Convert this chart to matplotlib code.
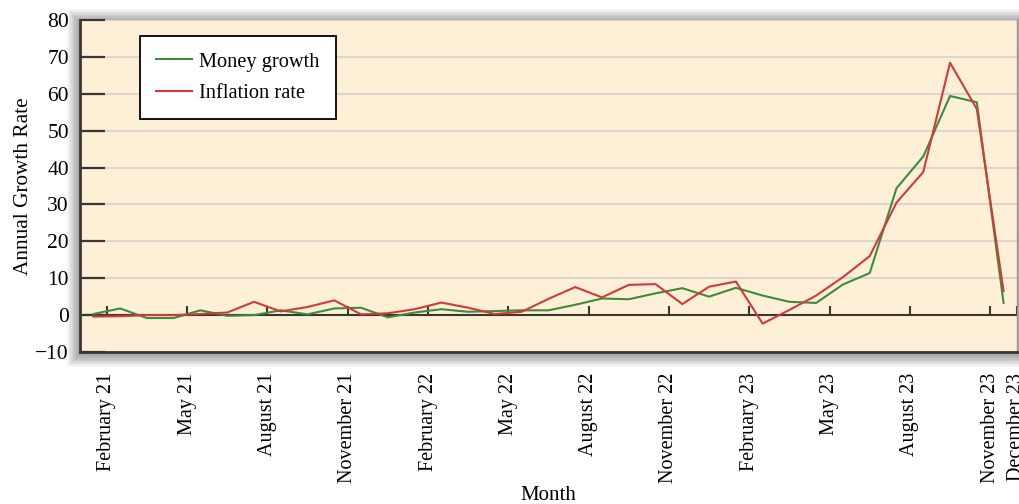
import matplotlib.pyplot as plt
from matplotlib.patches import Rectangle
import pandas as pd

# Monthly values, January 21 to November 23
money_growth = [0.3, 1.8, -0.8, -0.8, 1.3, -0.2, 0.0, 1.3, 0.2, 1.8,
                2.0, -0.6, 0.7, 1.6, 0.9, 1.1, 1.3, 1.3, 2.8, 4.5,
                4.3, 5.9, 7.3, 5.0, 7.4, 5.3, 3.6, 3.3, 8.3, 11.4,
                34.4, 43.0, 59.4, 57.7, 3.3]
inflation_rate = [-0.4, -0.3, 0.0, 0.0, 0.3, 0.7, 3.6, 1.0, 2.2, 4.0,
                  0.2, 0.5, 1.6, 3.4, 2.0, 0.3, 0.9, 4.4, 7.6, 4.8,
                  8.2, 8.4, 3.0, 7.7, 9.1, -2.3, 1.4, 5.3, 10.3, 16.0,
                  30.5, 38.8, 68.4, 55.9, 6.5]
tick_labels = ['February 21', 'May 21', 'August 21', 'November 21',
               'February 22', 'May 22', 'August 22', 'November 22',
               'February 23', 'May 23', 'August 23', 'November 23',
               'December 23']

plt.rcParams['font.family'] = ['Liberation Serif', 'DejaVu Serif']
plt.rcParams['font.size'] = 15

dark = '#3b3630'
green = '#3d8c3d'
red = '#cf3b3b'

# tick marks sit on month boundaries, points in the middle of each month
tick_dates = pd.to_datetime(tick_labels, format='%B %y')
tick_pos = [(d.year - 2021) * 12 + d.month - 1 - 0.5 for d in tick_dates]
x = list(range(len(money_growth)))

fig = plt.figure(figsize=(10.19, 5.04), dpi=100)
rect = [0.0785, 0.3016, 0.9195, 0.6587]
ax = fig.add_axes(rect)

# soft drop shadow around the plot area
W, H = 1019, 504
for i in range(1, 10):
    dx = i * 1.4 / W
    dy = i * 1.4 / H
    fig.add_artist(Rectangle((rect[0] - dx, rect[1] - dy - 2 / H),
                             rect[2] + 2 * dx, rect[3] + 2 * dy,
                             transform=fig.transFigure, facecolor='k',
                             edgecolor='none', alpha=0.045, zorder=-1))

ax.set_facecolor('#fdf0d6')
ax.plot(x, money_growth, color=green, lw=1.5, label='Money growth', zorder=3)
ax.plot(x, inflation_rate, color=red, lw=1.5, label='Inflation rate', zorder=3)

ax.set_xlim(-0.5, 34.5)
ax.set_ylim(-10, 80)
ax.set_yticks(range(-10, 81, 10))
ax.grid(axis='y', color='#dcd7cc', lw=1.5)
ax.set_axisbelow(True)
ax.tick_params(axis='y', direction='in', length=18, width=1.6, color=dark,
               pad=8, labelsize=15.5)

ax.set_xticks(tick_pos)
ax.set_xticklabels(tick_labels, rotation=90)
ax.tick_params(axis='x', length=0, pad=15, labelsize=14.5)

# zero line with short month ticks standing on it
ax.axhline(0, color=dark, lw=1.5, zorder=2)
ax.vlines(tick_pos, 0, 2.4, color=dark, lw=1.5, zorder=2)

for side in ['left', 'bottom']:
    ax.spines[side].set_color(dark)
    ax.spines[side].set_linewidth(2)
ax.spines['top'].set_visible(False)
ax.spines['right'].set_color('#9a968f')
ax.spines['right'].set_linewidth(1)

ax.set_ylabel('Annual Growth Rate', fontsize=15.3)
ax.yaxis.set_label_coords(-0.05, 0.5)
ax.set_xlabel('Month', fontsize=15)
ax.xaxis.set_label_coords(0.5, -0.405)

leg = ax.legend(loc='upper left', bbox_to_anchor=(0.064, 0.952), borderaxespad=0,
                fancybox=False, edgecolor='k', fontsize=14.7, handlelength=1.75,
                handletextpad=0.35, labelspacing=0.6, borderpad=0.8)
leg.get_frame().set_linewidth(1.3)
leg.get_frame().set_alpha(1)

fig.savefig('out.png', dpi=100)
